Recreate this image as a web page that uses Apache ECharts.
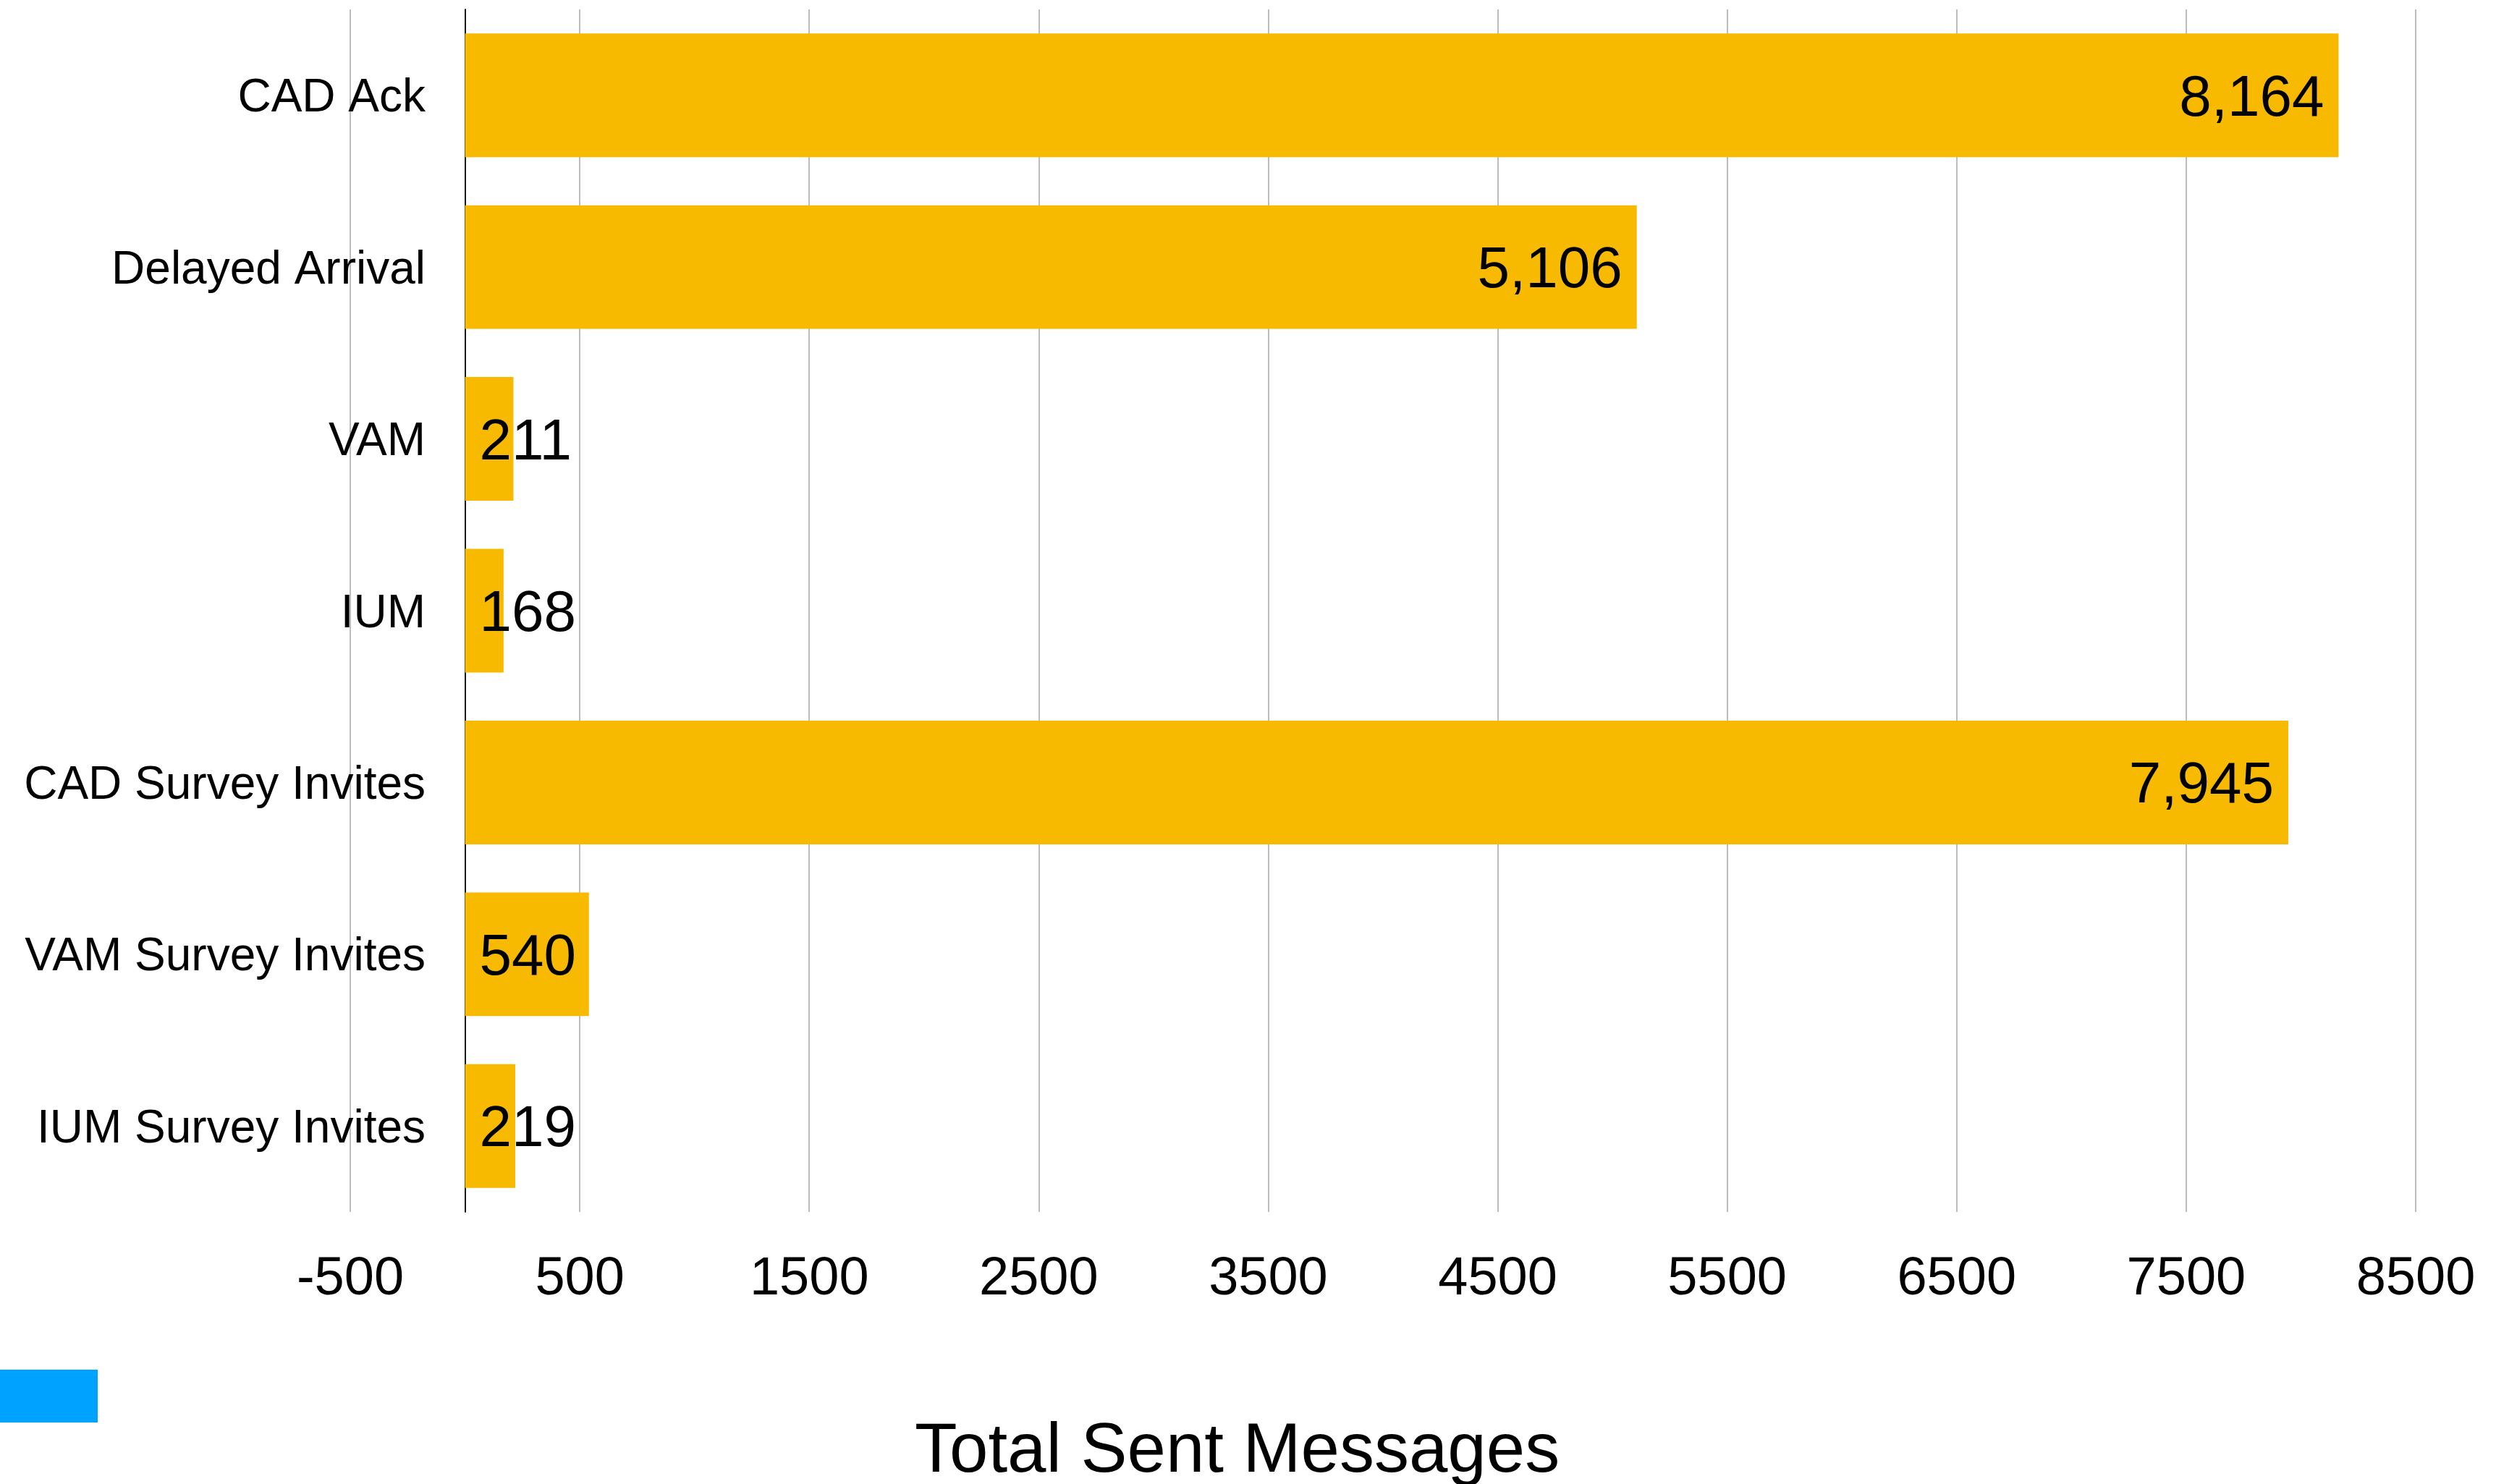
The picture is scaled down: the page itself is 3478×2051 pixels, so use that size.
<!DOCTYPE html>
<html>
<head>
<meta charset="utf-8">
<script src="https://cdn.jsdelivr.net/npm/echarts@6/dist/echarts.min.js"></script>
<style>
  html, body { margin: 0; padding: 0; background: #ffffff; }
  #chart { width: 3478px; height: 2051px; }
</style>
</head>
<body>
<div id="chart"></div>
<script>
// Message types, top to bottom
const categories = ['CAD Ack', 'Delayed Arrival', 'VAM', 'IUM', 'CAD Survey Invites', 'VAM Survey Invites', 'IUM Survey Invites'];
// Messages sent per type
const sentCounts = [8164, 5106, 211, 168, 7945, 540, 219];
// Value axis range and step
const axisMin = -500;
const axisMax = 8500;
const axisStep = 1000;
const seriesName = 'Total Sent Messages';

const FONT = "'Liberation Sans', Arial, sans-serif";
const BAR_COLOR = '#F7BA00';
const KEY_COLOR = '#00A2FF';

const chart = echarts.init(document.getElementById('chart'), null, { renderer: 'canvas' });

// Short bars carry their label at the base, long bars at the tip
const barData = sentCounts.map(v => ({
  value: v,
  label: { position: v < 1000 ? 'insideLeft' : 'insideRight' }
}));

chart.setOption({
  backgroundColor: '#ffffff',
  animation: false,
  textStyle: { fontFamily: FONT },
  title: {
    text: seriesName,
    left: 1264,
    top: 1960,
    padding: 0,
    textStyle: { fontFamily: FONT, fontSize: 96, fontWeight: 'normal', color: '#000000' }
  },
  legend: {
    left: 0,
    top: 1893,
    padding: 0,
    itemGap: 0,
    itemWidth: 135,
    itemHeight: 73,
    icon: 'rect',
    selectedMode: false,
    formatter: () => '',
    textStyle: { fontSize: 1 },
    data: [{ name: seriesName, itemStyle: { color: KEY_COLOR } }]
  },
  grid: {
    left: 484, right: 140, top: 13, bottom: 376,
    containLabel: false,
    outerBoundsMode: 'none'
  },
  xAxis: {
    type: 'value',
    min: axisMin,
    max: axisMax,
    interval: axisStep,
    axisLine: { show: false },
    axisTick: { show: false },
    axisLabel: {
      fontFamily: FONT, fontSize: 74, color: '#000000', margin: 57,
      formatter: v => String(v)
    },
    splitLine: { show: true, lineStyle: { color: '#BDBDBD', width: 2 } }
  },
  yAxis: {
    type: 'category',
    data: categories,
    inverse: true,
    axisLine: { show: true, onZero: true, lineStyle: { color: '#1a1a1a', width: 2 } },
    axisTick: { show: false },
    axisLabel: {
      fontFamily: FONT, fontSize: 64, color: '#000000', margin: -104,
      verticalAlign: 'top',
      lineHeight: 10
    },
    splitLine: { show: false }
  },
  series: [{
    name: seriesName,
    type: 'bar',
    data: barData,
    barCategoryGap: '28%',
    itemStyle: { color: BAR_COLOR },
    label: {
      show: true,
      distance: 20,
      offset: [0, 6],
      fontFamily: FONT,
      fontSize: 80,
      color: '#000000',
      formatter: p => Number(p.value).toLocaleString('en-US')
    },
    z: 1
  }]
});
</script>
</body>
</html>
